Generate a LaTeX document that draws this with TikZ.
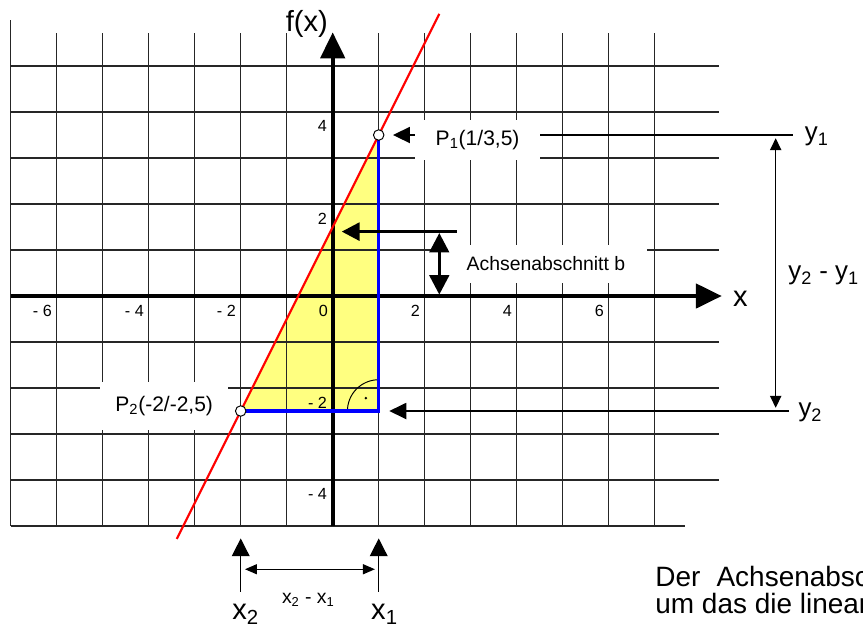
\documentclass[tikz,border=0pt]{standalone}
\usepackage{fontspec}
\setmainfont{Liberation Sans}
\usetikzlibrary{arrows.meta}
\definecolor{gelb}{RGB}{255,255,128}
\begin{document}
\begin{tikzpicture}[
		gitter/.style={line width=0.8pt, black!85},
		achse/.style={line width=2.4pt, -{Triangle[length=16pt,width=15pt]}},
		pfeil/.style={line width=0.8pt, -{Triangle[length=10.5pt,width=10pt]}},
		dickpfeil/.style={line width=2pt, -{Triangle[length=11pt,width=11pt]}},
		doppelpfeil/.style={line width=0.8pt, {Triangle[length=7.4pt,width=7pt]}-{Triangle[length=7.4pt,width=7pt]}},
		kasten/.style={fill=white, inner sep=0pt, font=\fontsize{13}{15}\selectfont},
		zahl/.style={inner sep=0pt, font=\fontsize{10}{12}\selectfont},
		gross/.style={inner sep=0pt, font=\fontsize{18}{20}\selectfont},
		mittel/.style={inner sep=0pt, font=\fontsize{16}{18}\selectfont},
		satz/.style={inner sep=0pt, anchor=base west, font=\fontsize{17.3}{19}\selectfont},
		punkt/.style={circle, draw, fill=white, line width=0.6pt, inner sep=0pt, minimum size=6.5pt}]
	\useasboundingbox (-7.233,-7.391) rectangle (11.528,6.435);
	\coordinate (P1) at (1,3.5);
	\coordinate (P2) at (-2,-2.5);
	\coordinate (C) at (1,-2.5);
	\fill[gelb] (P2) -- (P1) -- (C) -- cycle;
	\draw[gitter] (-7,-5) -- (-7,6);
	\foreach \x in {-6,...,7} \draw[gitter] (\x,-5) -- (\x,5.72);
	\foreach \y in {-4,...,5} \draw[gitter] (-7,\y) -- (8.4,\y);
	\draw[gitter] (-7,-5) -- (7.65,-5);
	\coordinate (y1e) at (10,3.5);
	\coordinate (y2e) at (9.92,-2.5);
	\draw[pfeil, shorten >=0.31cm] (y1e) -- (P1);
	\draw[pfeil, shorten >=0.23cm] (y2e) -- (C);
	\node[kasten, minimum width=2.72cm, minimum height=0.87cm] (p1text) at (3.15,3.4) {P\textsubscript{1}(1/3,5)};
	\node[kasten, minimum width=2.78cm, minimum height=1.04cm] (p2text) at (-3.665,-2.39) {P\textsubscript{2}(-2/-2,5)};
	\node[kasten, font=\fontsize{12}{14}\selectfont, minimum width=4.39cm, minimum height=0.83cm] (abtext) at (4.635,0.695) {Achsenabschnitt b};
	\draw[achse] (-7,0) -- (8.457,0);
	\draw[achse] (0,-5) -- (0,5.73);
	\draw[line width=0.6pt] (C) ++(-0.68,0) arc[start angle=180, end angle=90, radius=0.68];
	\fill (C) ++(-0.28,0.28) circle[radius=0.9pt];
	\draw[blue, line width=2pt] (P1) -- (C) -- (P2);
	\draw[red, line width=1.3pt, domain=-3.39:2.317] plot (\x,{2*\x+1.5});
	\node[punkt] (p1) at (P1) {};
	\node[punkt] (p2) at (P2) {};
	\foreach \x/\t in {-6/- 6,-4/- 4,-2/- 2,0/0,2/2,4/4,6/6}
		\node[zahl, anchor=north east] (xt\x) at (\x-0.1,-0.196) {\t};
	\foreach \y/\t in {4/4,2/2,-2/- 2,-4/- 4}
		\node[zahl, anchor=north east] (yt\y) at (-0.12,\y-0.185) {\t};
	\coordinate (bstart) at (2.696,1.4);
	\coordinate (b) at (0,1.4);
	\draw[dickpfeil, shorten >=0.196cm] (bstart) -- (b);
	\coordinate (boben) at (2.317,1.4);
	\coordinate (bunten) at (2.317,0);
	\draw[line width=2pt, {Triangle[length=12pt,width=12pt]}-{Triangle[length=12pt,width=12pt]}, shorten <=0.03cm, shorten >=0.03cm] (boben) -- (bunten);
	\coordinate (d1) at (9.63,3.5);
	\coordinate (d2) at (9.63,-2.5);
	\draw[doppelpfeil, shorten <=0.07cm, shorten >=0.07cm] (d1) -- (d2);
	\coordinate (x2u) at (-2,-6.43);
	\coordinate (x2o) at (-2,-5.27);
	\coordinate (x1u) at (1,-6.43);
	\coordinate (x1o) at (1,-5.27);
	\draw[line width=0.8pt, -{Triangle[length=11pt,width=11pt]}] (x2u) -- (x2o);
	\draw[line width=0.8pt, -{Triangle[length=11pt,width=11pt]}] (x1u) -- (x1o);
	\coordinate (dxl) at (-1.907,-5.94);
	\coordinate (dxr) at (0.917,-5.94);
	\draw[line width=0.8pt, {Triangle[length=7.4pt,width=6.2pt]}-{Triangle[length=7.4pt,width=6.2pt]}] (dxl) -- (dxr);
	\node[gross, anchor=base east] (fx) at (-0.1,5.76) {f(x)};
	\node[gross, anchor=base west] (xlab) at (8.7,-0.232) {x};
	\node[mittel, anchor=base west] (y1lab) at (10.26,3.37) {y\textsubscript{1}};
	\node[mittel, anchor=base west] (y2lab) at (10.12,-2.63) {y\textsubscript{2}};
	\node[mittel, anchor=base west] (dylab) at (9.9,0.35) {y\textsubscript{2} - y\textsubscript{1}};
	\node[gross, anchor=base west] (x2lab) at (-2.19,-7.04) {x\textsubscript{2}};
	\node[gross, anchor=base west] (x1lab) at (0.83,-7.04) {x\textsubscript{1}};
	\node[inner sep=0pt, font=\fontsize{12}{14}\selectfont, anchor=base] (dxlab) at (-0.53,-6.68) {x\textsubscript{2} - x\textsubscript{1}};
	\node[satz] (satz1) at (7.007,-6.32) {Der\hspace{10pt}Achsenabschnitt};
	\node[satz] (satz2) at (7.007,-6.9) {um das die lineare};
\end{tikzpicture}
\end{document}
